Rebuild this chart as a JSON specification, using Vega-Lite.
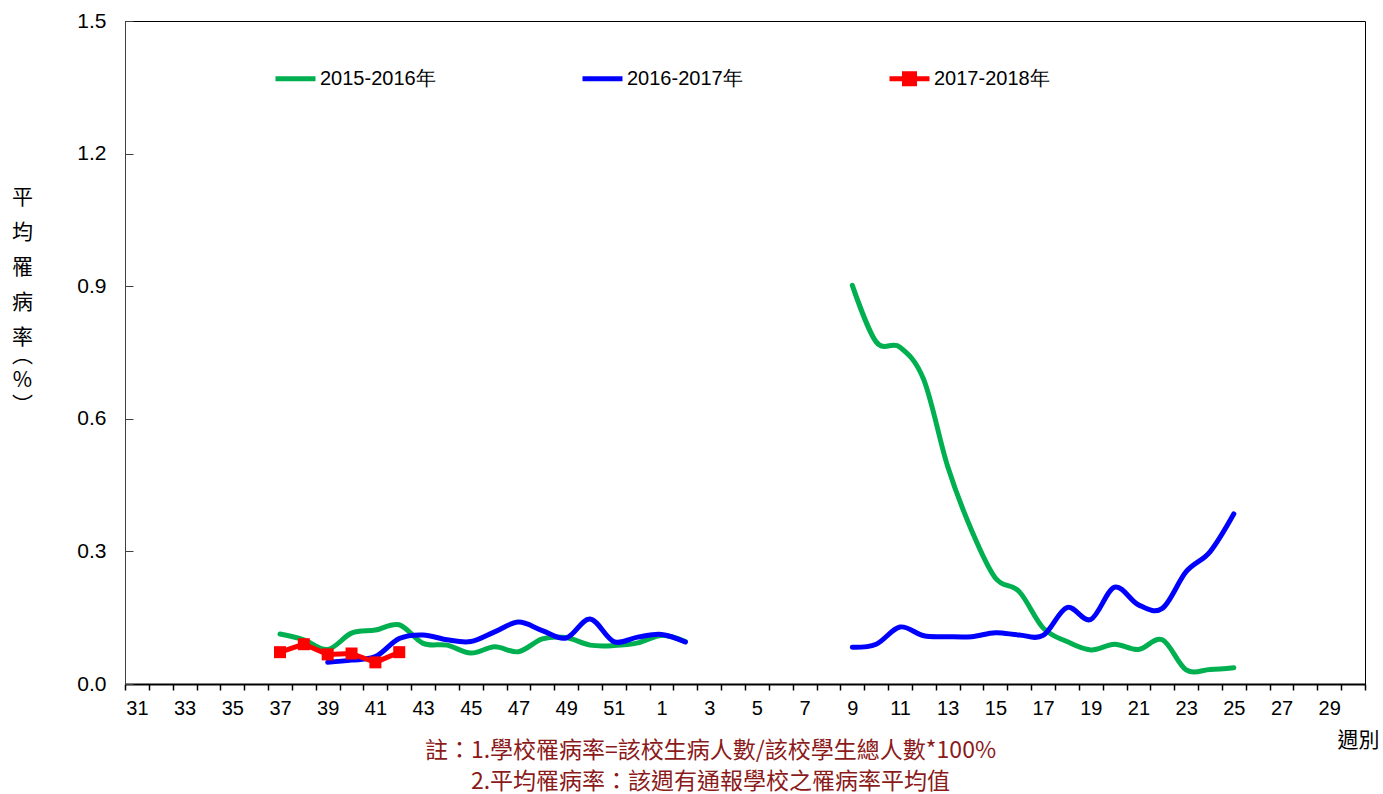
{
  "$schema": "https://vega.github.io/schema/vega-lite/v6.json",
  "width": 1240,
  "height": 663,
  "autosize": {"type": "none"},
  "padding": {"left": 125, "top": 21, "right": 18, "bottom": 110},
  "background": "white",
  "config": {
    "view": {"stroke": "black", "strokeWidth": 1},
    "axis": {"grid": false}
  },
  "data": {
    "values": [
      {"s": "2015-2016年", "seg": "a", "week": "37", "v": 0.113},
      {"s": "2015-2016年", "seg": "a", "week": "38", "v": 0.100},
      {"s": "2015-2016年", "seg": "a", "week": "39", "v": 0.078},
      {"s": "2015-2016年", "seg": "a", "week": "40", "v": 0.115},
      {"s": "2015-2016年", "seg": "a", "week": "41", "v": 0.122},
      {"s": "2015-2016年", "seg": "a", "week": "42", "v": 0.134},
      {"s": "2015-2016年", "seg": "a", "week": "43", "v": 0.092},
      {"s": "2015-2016年", "seg": "a", "week": "44", "v": 0.088},
      {"s": "2015-2016年", "seg": "a", "week": "45", "v": 0.070},
      {"s": "2015-2016年", "seg": "a", "week": "46", "v": 0.084},
      {"s": "2015-2016年", "seg": "a", "week": "47", "v": 0.073},
      {"s": "2015-2016年", "seg": "a", "week": "48", "v": 0.102},
      {"s": "2015-2016年", "seg": "a", "week": "49", "v": 0.105},
      {"s": "2015-2016年", "seg": "a", "week": "50", "v": 0.088},
      {"s": "2015-2016年", "seg": "a", "week": "51", "v": 0.087},
      {"s": "2015-2016年", "seg": "a", "week": "52", "v": 0.093},
      {"s": "2015-2016年", "seg": "a", "week": "1", "v": 0.110},
      {"s": "2015-2016年", "seg": "a", "week": "2", "v": 0.096},
      {"s": "2015-2016年", "seg": "b", "week": "9", "v": 0.902},
      {"s": "2015-2016年", "seg": "b", "week": "10", "v": 0.774},
      {"s": "2015-2016年", "seg": "b", "week": "11", "v": 0.762},
      {"s": "2015-2016年", "seg": "b", "week": "12", "v": 0.688},
      {"s": "2015-2016年", "seg": "b", "week": "13", "v": 0.492},
      {"s": "2015-2016年", "seg": "b", "week": "14", "v": 0.348},
      {"s": "2015-2016年", "seg": "b", "week": "15", "v": 0.240},
      {"s": "2015-2016年", "seg": "b", "week": "16", "v": 0.209},
      {"s": "2015-2016年", "seg": "b", "week": "17", "v": 0.127},
      {"s": "2015-2016年", "seg": "b", "week": "18", "v": 0.096},
      {"s": "2015-2016年", "seg": "b", "week": "19", "v": 0.077},
      {"s": "2015-2016年", "seg": "b", "week": "20", "v": 0.090},
      {"s": "2015-2016年", "seg": "b", "week": "21", "v": 0.078},
      {"s": "2015-2016年", "seg": "b", "week": "22", "v": 0.100},
      {"s": "2015-2016年", "seg": "b", "week": "23", "v": 0.032},
      {"s": "2015-2016年", "seg": "b", "week": "24", "v": 0.033},
      {"s": "2015-2016年", "seg": "b", "week": "25", "v": 0.037},
      {"s": "2016-2017年", "seg": "a", "week": "39", "v": 0.049},
      {"s": "2016-2017年", "seg": "a", "week": "40", "v": 0.054},
      {"s": "2016-2017年", "seg": "a", "week": "41", "v": 0.062},
      {"s": "2016-2017年", "seg": "a", "week": "42", "v": 0.103},
      {"s": "2016-2017年", "seg": "a", "week": "43", "v": 0.111},
      {"s": "2016-2017年", "seg": "a", "week": "44", "v": 0.100},
      {"s": "2016-2017年", "seg": "a", "week": "45", "v": 0.096},
      {"s": "2016-2017年", "seg": "a", "week": "46", "v": 0.118},
      {"s": "2016-2017年", "seg": "a", "week": "47", "v": 0.140},
      {"s": "2016-2017年", "seg": "a", "week": "48", "v": 0.121},
      {"s": "2016-2017年", "seg": "a", "week": "49", "v": 0.104},
      {"s": "2016-2017年", "seg": "a", "week": "50", "v": 0.147},
      {"s": "2016-2017年", "seg": "a", "week": "51", "v": 0.096},
      {"s": "2016-2017年", "seg": "a", "week": "52", "v": 0.106},
      {"s": "2016-2017年", "seg": "a", "week": "1", "v": 0.112},
      {"s": "2016-2017年", "seg": "a", "week": "2", "v": 0.095},
      {"s": "2016-2017年", "seg": "b", "week": "9", "v": 0.083},
      {"s": "2016-2017年", "seg": "b", "week": "10", "v": 0.090},
      {"s": "2016-2017年", "seg": "b", "week": "11", "v": 0.129},
      {"s": "2016-2017年", "seg": "b", "week": "12", "v": 0.109},
      {"s": "2016-2017年", "seg": "b", "week": "13", "v": 0.107},
      {"s": "2016-2017年", "seg": "b", "week": "14", "v": 0.107},
      {"s": "2016-2017年", "seg": "b", "week": "15", "v": 0.116},
      {"s": "2016-2017年", "seg": "b", "week": "16", "v": 0.111},
      {"s": "2016-2017年", "seg": "b", "week": "17", "v": 0.110},
      {"s": "2016-2017年", "seg": "b", "week": "18", "v": 0.173},
      {"s": "2016-2017年", "seg": "b", "week": "19", "v": 0.146},
      {"s": "2016-2017年", "seg": "b", "week": "20", "v": 0.219},
      {"s": "2016-2017年", "seg": "b", "week": "21", "v": 0.179},
      {"s": "2016-2017年", "seg": "b", "week": "22", "v": 0.171},
      {"s": "2016-2017年", "seg": "b", "week": "23", "v": 0.254},
      {"s": "2016-2017年", "seg": "b", "week": "24", "v": 0.299},
      {"s": "2016-2017年", "seg": "b", "week": "25", "v": 0.385},
      {"s": "2017-2018年", "seg": "a", "week": "37", "v": 0.072},
      {"s": "2017-2018年", "seg": "a", "week": "38", "v": 0.090},
      {"s": "2017-2018年", "seg": "a", "week": "39", "v": 0.067},
      {"s": "2017-2018年", "seg": "a", "week": "40", "v": 0.069},
      {"s": "2017-2018年", "seg": "a", "week": "41", "v": 0.049},
      {"s": "2017-2018年", "seg": "a", "week": "42", "v": 0.072}
    ]
  },
  "encoding": {
    "y": {
      "field": "v",
      "type": "quantitative",
      "scale": {"domain": [0, 1.5], "nice": false, "zero": true},
      "axis": {
        "orient": "left",
        "values": [0, 0.3, 0.6, 0.9, 1.2, 1.5],
        "format": ".1f",
        "labelFont": "Liberation Sans",
        "labelFontSize": 21,
        "labelColor": "black",
        "labelPadding": 27,
        "tickSize": -8,
        "tickColor": "#404040",
        "tickWidth": 1,
        "domainColor": "#404040",
        "domainWidth": 1,
        "title": ["平", "均", "罹", "病", "率"],
        "titleAngle": 0,
        "titleFont": "Noto Sans CJK TC",
        "titleFontSize": 21,
        "titleFontWeight": "normal",
        "titleColor": "black",
        "titleLineHeight": 35,
        "titleX": -103,
        "titleY": 165,
        "titleAlign": "center",
        "titleBaseline": "top"
      }
    }
  },
  "layer": [
    {
      "transform": [{"filter": "datum.s !== '2017-2018年'"}],
      "mark": {"type": "line", "interpolate": "cardinal", "strokeWidth": 5, "strokeCap": "round", "strokeJoin": "round"},
      "encoding": {
        "x": {
          "field": "week",
          "type": "ordinal",
          "sort": null,
          "scale": {
            "type": "band",
            "paddingInner": 0,
            "paddingOuter": 0,
            "domain": ["31","32","33","34","35","36","37","38","39","40","41","42","43","44","45","46","47","48","49","50","51","52","1","2","3","4","5","6","7","8","9","10","11","12","13","14","15","16","17","18","19","20","21","22","23","24","25","26","27","28","29","30"]
          },
          "axis": {
            "orient": "bottom",
            "labelExpr": "toNumber(datum.value) % 2 == 1 ? datum.value : ''",
            "labelOverlap": false,
            "labelAngle": 0,
            "labelFont": "Liberation Sans",
            "labelFontSize": 20,
            "labelColor": "black",
            "labelPadding": 8,
            "tickBand": "extent",
            "tickSize": 6,
            "tickColor": "black",
            "tickWidth": 1.5,
            "domainColor": "black",
            "domainWidth": 2,
            "title": "週別",
            "titleFont": "Noto Sans CJK TC",
            "titleFontSize": 21,
            "titleFontWeight": "normal",
            "titleColor": "black",
            "titleX": 1212,
            "titleY": 56,
            "titleAlign": "left",
            "titleBaseline": "middle"
          }
        },
        "color": {
          "field": "s",
          "type": "nominal",
          "scale": {
            "domain": ["2015-2016年", "2016-2017年", "2017-2018年"],
            "range": ["#00B050", "#0000FF", "#FF0000"]
          },
          "legend": {
            "orient": "none",
            "legendX": 148,
            "legendY": 35,
            "direction": "horizontal",
            "title": null,
            "symbolType": "M-1,0H1",
            "symbolSize": 1600,
            "symbolStrokeWidth": 5,
            "labelFont": "Liberation Sans",
            "labelFontSize": 20,
            "labelColor": "black",
            "labelOffset": 2,
            "columnPadding": 136,
            "encode": {
              "symbols": {
                "update": {
                  "shape": {"signal": "datum.value === '2017-2018年' ? 'M-1,0H1M-0.25,-0.25H0.25V0.25H-0.25Z' : 'M-1,-0.25M-1,0.25M-1,0H1'"},
                  "fill": {"scale": "color", "field": "value"},
                  "stroke": {"scale": "color", "field": "value"},
                  "strokeWidth": {"value": 5}
                }
              }
            }
          }
        },
        "detail": {"field": "seg", "type": "nominal"}
      }
    },
    {
      "transform": [{"filter": "datum.s === '2017-2018年'"}],
      "mark": {"type": "line", "interpolate": "linear", "strokeWidth": 5, "strokeJoin": "round"},
      "encoding": {
        "x": {
          "field": "week",
          "type": "ordinal",
          "sort": null,
          "axis": {
            "orient": "bottom",
            "domain": false,
            "ticks": false,
            "labels": false,
            "title": ["註：1.學校罹病率=該校生病人數/該校學生總人數*100%", "2.平均罹病率：該週有通報學校之罹病率平均值"],
            "titleFont": "Noto Sans CJK TC",
            "titleFontSize": 23,
            "titleFontWeight": "normal",
            "titleColor": "#8B1A1A",
            "titleLineHeight": 31,
            "titleX": 585,
            "titleY": 55,
            "titleAlign": "center",
            "titleBaseline": "top"
          }
        },
        "y": {"field": "v", "type": "quantitative", "axis": null},
        "color": {"field": "s", "type": "nominal"},
        "detail": {"field": "seg", "type": "nominal"}
      }
    },
    {
      "transform": [{"filter": "datum.s === '2017-2018年'"}],
      "mark": {"type": "point", "shape": "square", "filled": true, "size": 144, "opacity": 1, "color": "#FF0000"},
      "encoding": {
        "x": {"field": "week", "type": "ordinal", "sort": null, "axis": null},
        "y": {
          "field": "v",
          "type": "quantitative",
          "axis": {
            "orient": "left",
            "domain": false,
            "ticks": false,
            "labels": false,
            "grid": false,
            "title": ["︵", "%", "︶"],
            "titleAngle": 0,
            "titleFont": "Noto Sans CJK TC",
            "titleFontSize": 21,
            "titleFontWeight": "normal",
            "titleColor": "black",
            "titleLineHeight": 25,
            "titleX": -103,
            "titleY": 323,
            "titleAlign": "center",
            "titleBaseline": "top"
          }
        }
      }
    }
  ],
  "resolve": {"axis": {"x": "independent", "y": "independent"}}
}
